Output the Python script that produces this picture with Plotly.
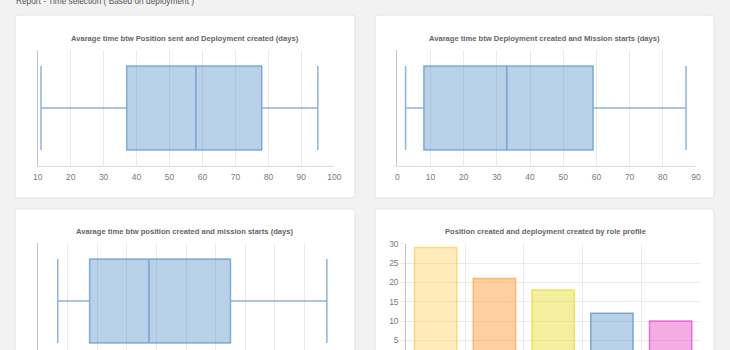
import plotly.graph_objects as go

W, H = 730, 350

# ---- data ----
box1_stats = dict(low=11, q1=37, median=58, q3=78, high=95)
box2_stats = dict(low=2.5, q1=8, median=33, q3=59, high=87)
box3_stats = dict(low=13.5, q1=35, median=75, q3=130, high=195)

role_profiles = ["Logistics", "Health", "WASH", "Shelter", "IT/Telecom"]
role_counts = [29, 21, 18, 12, 10]

titles = [
    "Avarage time btw Position sent and Deployment created (days)",
    "Avarage time btw Deployment created and Mission starts (days)",
    "Avarage time btw position created and mission starts (days)",
    "Position created and deployment created by role profile",
]
header = "Report - Time selection ( Based on deployment )"

bar_fills = ["rgba(255,205,86,0.4)", "rgba(255,159,64,0.5)", "rgba(230,220,40,0.45)",
             "rgba(80,138,200,0.4)", "rgba(228,70,196,0.45)"]
bar_lines = ["rgba(255,205,86,0.7)", "rgba(255,159,64,0.7)", "rgba(230,220,40,0.7)",
             "rgba(80,138,200,0.7)", "rgba(228,70,196,0.7)"]

BOX_FILL = "rgba(80,138,200,0.4)"
BOX_LINE = "rgba(80,138,200,0.65)"
GRID = "#ebebeb"
AXIS = "#c4c4c4"
FONT = "Liberation Sans, Arial, sans-serif"
TICKC = "#7a7a7a"


def px_x(v):
    return v / W


def px_y(v):
    return 1 - v / H


fig = go.Figure()


def add_box(stats, xa, ya):
    fig.add_trace(go.Box(
        orientation="h",
        y=[0], q1=[stats["q1"]], median=[stats["median"]], q3=[stats["q3"]],
        lowerfence=[stats["low"]], upperfence=[stats["high"]],
        width=0.724, whiskerwidth=1,
        fillcolor=BOX_FILL, line=dict(color=BOX_LINE, width=1.5),
        xaxis=xa, yaxis=ya, showlegend=False, hoverinfo="skip",
    ))


add_box(box1_stats, "x", "y")
add_box(box2_stats, "x2", "y2")
add_box(box3_stats, "x3", "y3")

fig.add_trace(go.Bar(
    x=role_profiles, y=role_counts, width=0.72,
    marker=dict(color=bar_fills, line=dict(color=bar_lines, width=1.5)),
    xaxis="x4", yaxis="y4", showlegend=False, hoverinfo="skip",
))

tickfont = dict(family=FONT, size=8.5, color=TICKC)

def xbox(domain_px, rng, dtick, show_labels=True):
    return dict(domain=[px_x(domain_px[0]), px_x(domain_px[1])], range=rng, dtick=dtick,
                tick0=0, showgrid=True, gridcolor=GRID, gridwidth=1, zeroline=False,
                showline=True, linecolor="#dcdcdc", linewidth=1, ticks="outside",
                ticklen=3, tickcolor="rgba(0,0,0,0)",
                tickfont=tickfont, showticklabels=show_labels, fixedrange=True,
                automargin=False)

def ybox(domain_px, rng, anchor):
    return dict(domain=[max(0, px_y(domain_px[1])), px_y(domain_px[0])], range=rng,
                showgrid=False, zeroline=False, showticklabels=False, ticks="",
                showline=True, linecolor=AXIS, linewidth=1, anchor=anchor, fixedrange=True,
                automargin=False)

layout = dict(
    width=W, height=H, margin=dict(l=0, r=0, t=0, b=0, pad=0, autoexpand=False),
    paper_bgcolor="#f1f2f1", plot_bgcolor="rgba(0,0,0,0)",
    font=dict(family=FONT, color=TICKC),
    xaxis=dict(**xbox([37.7, 334.3], [10, 100], 10), anchor="y"),
    yaxis=ybox([50, 166], [-0.5, 0.5], "x"),
    xaxis2=dict(**xbox([397.3, 696], [0, 90], 10), anchor="y2"),
    yaxis2=ybox([50, 166], [-0.5, 0.5], "x2"),
    xaxis3=dict(**xbox([37.7, 334.3], [0, 200], 20, show_labels=False), anchor="y3"),
    yaxis3=ybox([243, 350], [-0.422, 0.5], "x3"),
    xaxis4=dict(domain=[px_x(406.3), px_x(700)], anchor="y4", type="category",
                range=[-0.5, 4.5], showgrid=False, showline=False, ticks="",
                showticklabels=False,
                tickfont=tickfont, fixedrange=True, automargin=False),
    xaxis5=dict(domain=[px_x(406.3), px_x(700)], anchor="y4", overlaying="x4",
                range=[-0.5, 4.5], tickvals=[0.5, 1.5, 2.5, 3.5, 4.5],
                showticklabels=False, showgrid=True, gridcolor=GRID, ticks="",
                zeroline=False, showline=False, fixedrange=True, automargin=False),
    yaxis4=dict(domain=[0, px_y(243.7)], anchor="x4", range=[2.5, 30], dtick=5, tick0=0,
                showgrid=True, gridcolor=GRID, zeroline=False, showline=True,
                linecolor=AXIS, linewidth=1, ticks="outside", ticklen=5, tickcolor=GRID,
                tickfont=tickfont, fixedrange=True, automargin=False),
)

# invisible trace to activate xaxis5
fig.add_trace(go.Scatter(x=[0], y=[None], xaxis="x5", yaxis="y4", showlegend=False,
                         hoverinfo="skip", mode="markers"))


def card_path(x0, y0, x1, y1, r=3):
    rx, ry = r / W, r / H
    X0, X1 = px_x(x0), px_x(x1)
    Y0, Y1 = px_y(y0), px_y(y1)  # Y0 top (larger)
    return (f"M{X0+rx},{Y0} L{X1-rx},{Y0} Q{X1},{Y0} {X1},{Y0-ry} "
            f"L{X1},{Y1+ry} Q{X1},{Y1} {X1-rx},{Y1} L{X0+rx},{Y1} "
            f"Q{X0},{Y1} {X0},{Y1+ry} L{X0},{Y0-ry} Q{X0},{Y0} {X0+rx},{Y0} Z")

cards = [(15, 15, 355, 198), (375, 15, 714, 198), (15, 209, 355, 370), (375, 209, 714, 370)]
shapes = []
for c in cards:
    shapes.append(dict(type="path", xref="paper", yref="paper", path=card_path(*c),
                       fillcolor="#ffffff", line=dict(color="#e2e4e2", width=1), layer="below"))
layout["shapes"] = shapes

title_pos = [(185, 38.3), (544.5, 38.3), (185, 232), (545, 232)]
annotations = []
for t, (cx, cy) in zip(titles, title_pos):
    annotations.append(dict(text=f"<b>{t}</b>", x=px_x(cx), y=px_y(cy), xref="paper", yref="paper",
                            xanchor="center", yanchor="middle", showarrow=False,
                            font=dict(family=FONT, size=7.6, color="#666666")))
annotations.append(dict(text=header, x=px_x(14), y=px_y(8), xref="paper", yref="paper",
                        xanchor="left", yanchor="bottom", showarrow=False,
                        font=dict(family=FONT, size=8.3, color="#555555")))
layout["annotations"] = annotations

fig.update_layout(**layout)
fig.write_html("out.html")
